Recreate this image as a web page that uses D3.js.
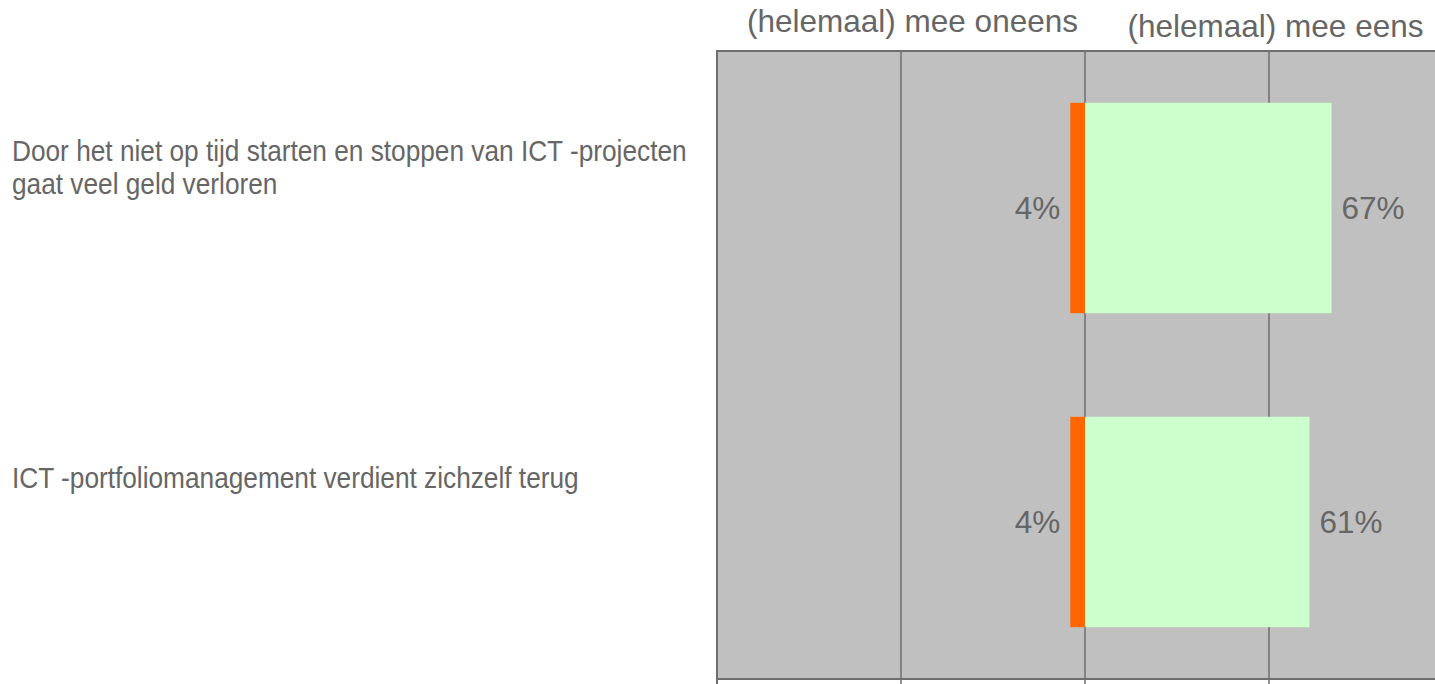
<!DOCTYPE html>
<html>
<head>
<meta charset="utf-8">
<script src="https://cdn.jsdelivr.net/npm/d3@7"></script>
<style>
  body { margin: 0; background: #fff; }
  svg { display: block; }
</style>
</head>
<body>
<svg id="chart"></svg>
<script>
// Stellingen en antwoorden (percentages)
const statements = [
    ["Door het niet op tijd starten en stoppen van ICT -projecten", "gaat veel geld verloren"],
    ["ICT -portfoliomanagement verdient zichzelf terug"]
];
const disagree = [4, 4];
const agree = [67, 61];
const gridTicks = [-100, -50, 0, 50, 100];
const headers = ["(helemaal) mee oneens", "(helemaal) mee eens"];

const width = 1435;
const height = 684;

const svg = d3.select("#chart")
    .attr("width", width)
    .attr("height", height);

const x = d3.scaleLinear()
    .domain([-100, 100])
    .range([717, 1453]);

const y = d3.scaleBand()
    .domain(d3.range(statements.length))
    .range([51, 679])
    .paddingInner(0.33)
    .paddingOuter(0.165);

const textColor = "#666666";
const font = "'Liberation Sans', Arial, sans-serif";

// plot background
svg.append("rect")
    .attr("x", x(-100))
    .attr("y", 51)
    .attr("width", x(100) - x(-100))
    .attr("height", 628)
    .attr("fill", "#c0c0c0");

// gridlines (run a bit past the bottom like tick marks)
svg.append("g")
    .selectAll("line")
    .data(gridTicks)
    .join("line")
    .attr("x1", d => x(d))
    .attr("x2", d => x(d))
    .attr("y1", 51)
    .attr("y2", height)
    .attr("stroke", "#6e6e6e")
    .attr("stroke-width", d => d === -100 ? 2 : 1.5);

// top and bottom border
svg.append("g")
    .selectAll("line")
    .data([51, 679])
    .join("line")
    .attr("x1", x(-100) - 1)
    .attr("x2", width)
    .attr("y1", d => d)
    .attr("y2", d => d)
    .attr("stroke", "#6e6e6e")
    .attr("stroke-width", 2);

// bars
const rows = svg.append("g")
    .selectAll("g")
    .data(statements.map((s, i) => ({ s, i, dis: disagree[i], agr: agree[i] })))
    .join("g");

rows.append("rect")
    .attr("x", d => x(-d.dis))
    .attr("y", d => y(d.i))
    .attr("width", d => x(0) - x(-d.dis))
    .attr("height", y.bandwidth())
    .attr("fill", "#ff6600");

rows.append("rect")
    .attr("x", x(0))
    .attr("y", d => y(d.i))
    .attr("width", d => x(d.agr) - x(0))
    .attr("height", y.bandwidth())
    .attr("fill", "#ccffcc");

rows.append("text")
    .attr("x", d => x(-d.dis) - 10)
    .attr("y", d => y(d.i) + y.bandwidth() / 2 + 11)
    .attr("text-anchor", "end")
    .attr("font-family", font)
    .attr("font-size", 31.5)
    .attr("fill", textColor)
    .text(d => d.dis + "%");

rows.append("text")
    .attr("x", d => x(d.agr) + 10)
    .attr("y", d => y(d.i) + y.bandwidth() / 2 + 11)
    .attr("font-family", font)
    .attr("font-size", 31.5)
    .attr("fill", textColor)
    .text(d => d.agr + "%");

// statement labels (condensed look, like Arial Narrow)
const labels = rows.append("text")
    .attr("font-family", font)
    .attr("font-size", 29)
    .attr("fill", textColor)
    .attr("transform", "translate(12,0) scale(0.905,1)")
    .attr("y", d => y(d.i) + y.bandwidth() / 2 - 34 - (d.s.length - 1) * 13);

labels.selectAll("tspan")
    .data(d => d.s)
    .join("tspan")
    .attr("x", 0)
    .attr("dy", (d, j) => j === 0 ? 0 : 33)
    .text(d => d);

// column headers
svg.append("g")
    .selectAll("text")
    .data(headers)
    .join("text")
    .attr("x", (d, i) => i === 0 ? x(-50) + 11.5 : x(50) + 6.5)
    .attr("y", (d, i) => i === 0 ? 32 : 37)
    .attr("text-anchor", "middle")
    .attr("font-family", font)
    .attr("font-size", 31.5)
    .attr("fill", textColor)
    .text(d => d);
</script>
</body>
</html>
